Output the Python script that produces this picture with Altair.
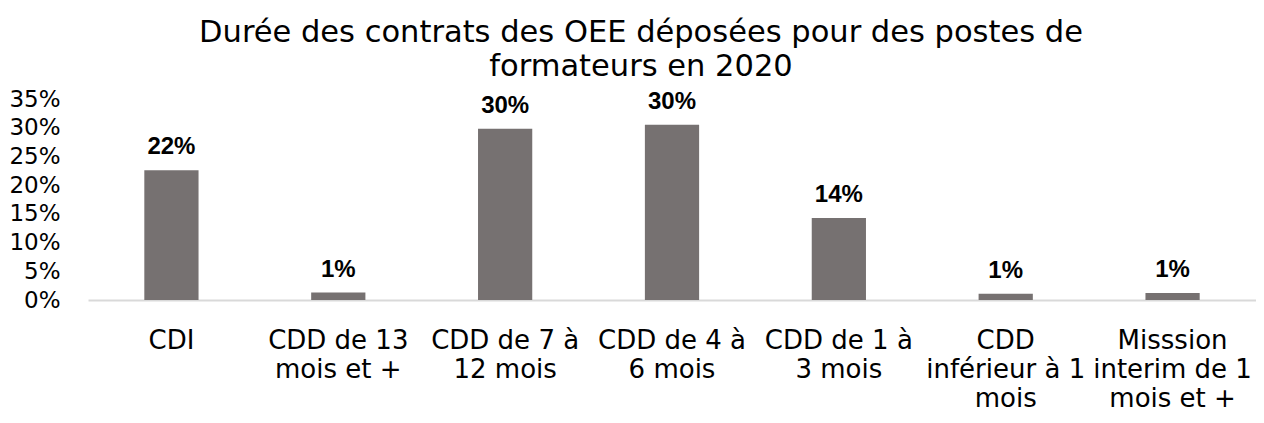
import altair as alt
import pandas as pd

categories = ["CDI", "CDD de 13 mois et +", "CDD de 7 à 12 mois", "CDD de 4 à 6 mois",
              "CDD de 1 à 3 mois", "CDD inférieur à 1 mois", "Misssion interim de 1 mois et +"]
label_lines = [["CDI"], ["CDD de 13", "mois et +"], ["CDD de 7 à", "12 mois"], ["CDD de 4 à", "6 mois"],
               ["CDD de 1 à", "3 mois"], ["CDD", "inférieur à 1", "mois"], ["Misssion", "interim de 1", "mois et +"]]
values = [0.226, 0.013, 0.298, 0.305, 0.143, 0.011, 0.012]
value_labels = ["22%", "1%", "30%", "30%", "14%", "1%", "1%"]
y_ticks = [0, 0.05, 0.10, 0.15, 0.20, 0.25, 0.30, 0.35]

df = pd.DataFrame({"cat": categories, "v": values, "lab": value_labels})

mapping = "{" + ", ".join(
    "'" + c + "': [" + ", ".join("'" + l + "'" for l in ls) + "]"
    for c, ls in zip(categories, label_lines)) + "}"

FONT = "DejaVu Sans"

x = alt.X("cat:N", sort=categories, title=None,
          scale=alt.Scale(paddingInner=0.675, paddingOuter=0.3375),
          axis=alt.Axis(labelAngle=0, labelExpr=mapping + "[datum.label]",
                        labelFont=FONT, labelFontSize=26, labelColor="#000000",
                        labelLineHeight=29, labelPadding=27, labelBaseline="top",
                        ticks=False, domainColor="#d9d9d9", domainWidth=2,
                        labelLimit=300, labelOverlap=False))
y = alt.Y("v:Q", title=None,
          scale=alt.Scale(domain=[0, 0.35], nice=False),
          axis=alt.Axis(values=y_ticks, format=".0%", grid=False, domain=False,
                        ticks=False, labelFont=FONT, labelFontSize=23,
                        labelColor="#000000", labelPadding=28, labelOverlap=False,
                        labelSeparation=0, tickCount=8,
                        minExtent=80, maxExtent=80))

base = alt.Chart(df).encode(x=x, y=y)
bars = base.mark_bar(color="#767171")
text = base.mark_text(font="Liberation Sans", fontWeight="bold", fontSize=24,
                      baseline="bottom", dy=-11, color="#000000").encode(text="lab:N")

chart = (bars + text).properties(
    width=1168, height=201,
    padding={"left": 0, "top": 9, "right": 0, "bottom": 0},
    title=alt.TitleParams(
        ["Durée des contrats des OEE déposées pour des postes de", "formateurs en 2020"],
        font=FONT, fontSize=30.5, fontWeight="normal", color="#000000",
        lineHeight=34, anchor="middle", offset=6, dx=-31),
).configure_view(stroke=None)

chart.save("out.html", embed_options={"renderer": "svg", "actions": False})
